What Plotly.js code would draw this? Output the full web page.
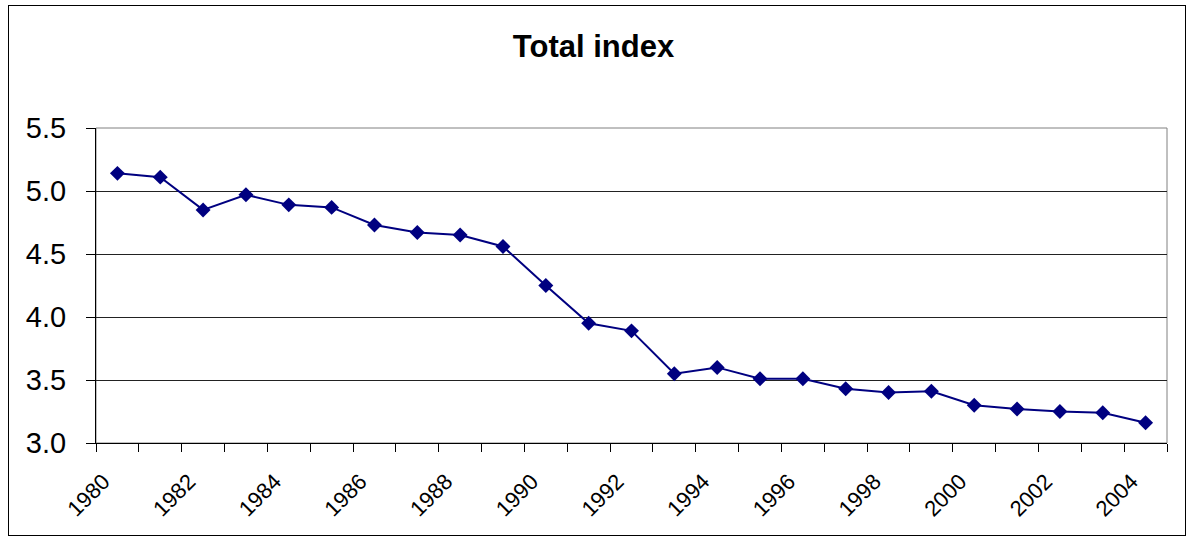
<!DOCTYPE html>
<html>
<head>
<meta charset="utf-8">
<script src="https://cdn.plot.ly/plotly-3.0.1.min.js"></script>
<style>
  html, body { margin: 0; padding: 0; background: #fff; }
  #wrap { position: relative; width: 1187px; height: 537px; }
  #frame { position: absolute; left: 8px; top: 5px; width: 1176px; height: 529px; border: 1px solid #000; pointer-events: none; }
  #chart { position: absolute; left: 0; top: 0; width: 1187px; height: 537px; }
</style>
</head>
<body>
<div id="wrap">
  <div id="chart"></div>
  <div id="frame"></div>
</div>
<script>
const years = [1980,1981,1982,1983,1984,1985,1986,1987,1988,1989,1990,1991,1992,1993,1994,1995,1996,1997,1998,1999,2000,2001,2002,2003,2004];
const totalIndex = [5.14,5.11,4.85,4.97,4.89,4.87,4.73,4.67,4.65,4.56,4.25,3.95,3.89,3.55,3.60,3.51,3.51,3.43,3.40,3.41,3.30,3.27,3.25,3.24,3.16];
const xTickLabels = ['1980','1982','1984','1986','1988','1990','1992','1994','1996','1998','2000','2002','2004'];
const xTickVals = xTickLabels.map(Number);
const yTickVals = [3.0,3.5,4.0,4.5,5.0,5.5];

const trace = {
  x: years,
  y: totalIndex,
  type: 'scatter',
  mode: 'lines+markers',
  line: { color: '#000080', width: 2 },
  marker: { symbol: 'diamond', size: 11.5, color: '#000080' },
  hoverinfo: 'x+y'
};

const layout = {
  width: 1187,
  height: 537,
  autosize: false,
  margin: { l: 96, r: 20, t: 128, b: 94 },
  paper_bgcolor: '#ffffff',
  plot_bgcolor: '#ffffff',
  showlegend: false,
  font: { family: 'Liberation Sans, Arial, sans-serif', color: '#000' },
  title: {
    text: '<b>Total index</b>',
    font: { size: 31, family: 'Liberation Sans, Arial, sans-serif', color: '#000' },
    x: 0.5, xref: 'container', xanchor: 'center',
    y: 1 - 46/537, yref: 'container', yanchor: 'middle'
  },
  xaxis: {
    type: 'linear',
    range: [1979.5, 2004.5],
    tickvals: xTickVals,
    ticktext: xTickLabels,
    tickangle: -45,
    ticks: '',
    ticklen: 0,
    ticklabelshift: -14,
    ticklabelstandoff: 16,
    tickfont: { size: 22, family: 'Liberation Sans, Arial, sans-serif', color: '#000' },
    showgrid: false,
    zeroline: false,
    showline: true,
    linecolor: '#000',
    linewidth: 1,
    minor: { tick0: 1979.5, dtick: 1, ticks: 'outside', ticklen: 8, tickcolor: '#000', tickwidth: 1, showgrid: false },
    fixedrange: true
  },
  yaxis: {
    range: [3.0, 5.5],
    tickvals: yTickVals,
    tickformat: '.1f',
    ticks: 'outside',
    ticklen: 9,
    tickcolor: '#000',
    ticklabelstandoff: 14,
    tickfont: { size: 29, family: 'Liberation Sans, Arial, sans-serif', color: '#000' },
    showgrid: true,
    gridcolor: '#222',
    gridwidth: 1,
    zeroline: false,
    showline: true,
    linecolor: '#000',
    linewidth: 1,
    fixedrange: true
  },
  shapes: [
    { type: 'rect', xref: 'paper', yref: 'paper', x0: 0, x1: 1, y0: 0, y1: 1, line: { color: '#808080', width: 1 }, layer: 'below' }
  ]
};

Plotly.newPlot('chart', [trace], layout, { displayModeBar: false, staticPlot: true });
</script>
</body>
</html>
